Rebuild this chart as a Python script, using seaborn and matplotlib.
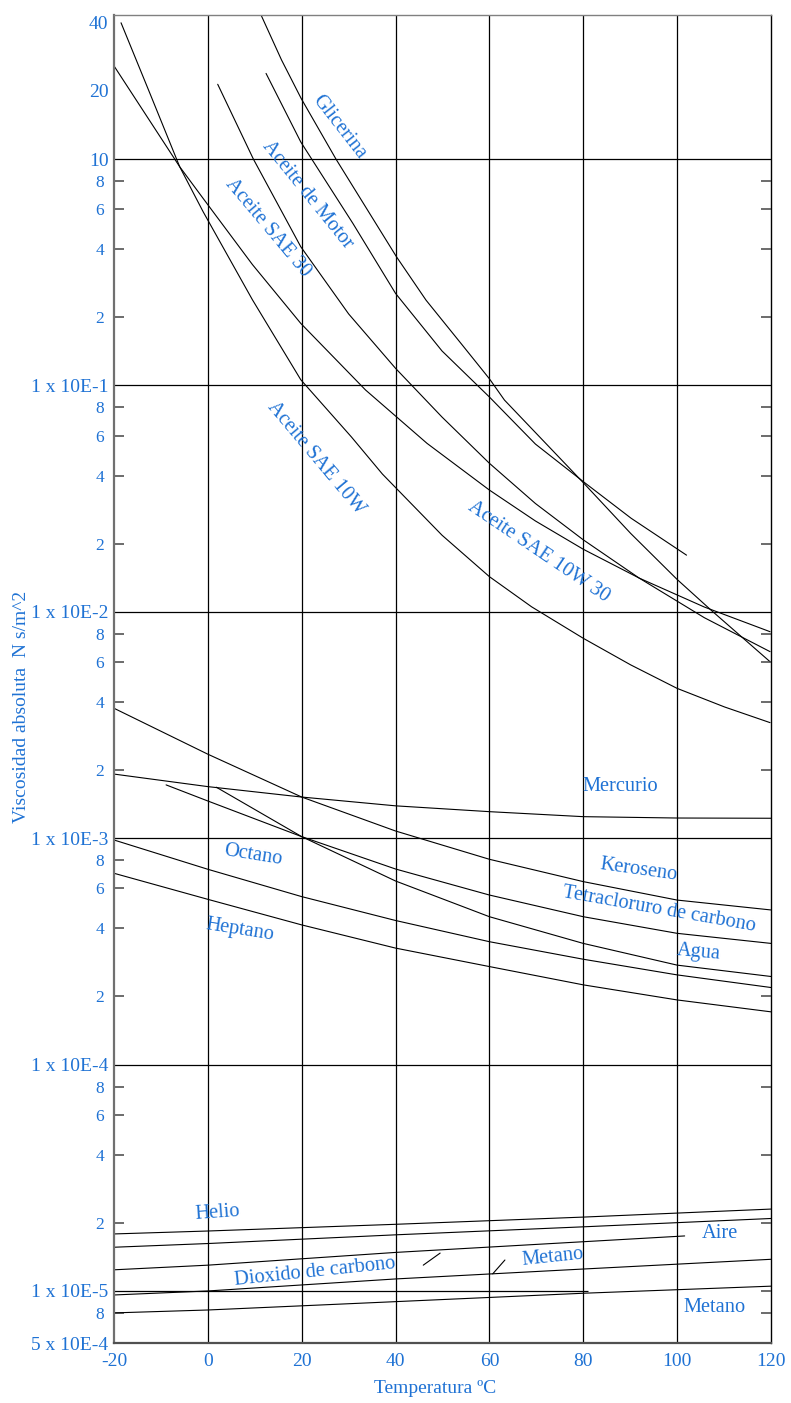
import matplotlib
matplotlib.use("Agg")
import matplotlib.pyplot as plt
import pandas as pd
import seaborn as sns

# Viscosidad absoluta vs temperatura (escala log)

# --- datos (T en ºC, mu en N s/m^2) ---
T_glicerina = [11.4, 15.7, 19.9, 27.3, 40.2, 46.5, 54.2, 60, 63.2, 80, 90.1, 100, 107.4, 119.8]
mu_glicerina = [4.3, 2.74, 1.85, 1.0, 0.370, 0.238, 0.151, 0.107, 0.0862, 0.0372, 0.0222,
                0.0139, 0.0101, 0.00602]

T_motor = [12.4, 19.8, 30.9, 40, 49.9, 60, 69.8, 80, 90.2, 102]
mu_motor = [2.39, 1.19, 0.52, 0.255, 0.142, 0.0889, 0.0551, 0.0376, 0.0259, 0.0178]

T_sae30 = [2.1, 9.7, 19.8, 30.0, 40, 49.9, 60, 69.8, 80, 91.9, 105.8, 119.8]
mu_sae30 = [2.14, 1.0, 0.410, 0.207, 0.119, 0.0725, 0.0453, 0.0301, 0.0208, 0.0141,
            0.00942, 0.00667]

T_10w30 = [-20, -6.0, -1.0, 9.5, 19.8, 33.6, 46.7, 60, 69.8, 80, 91.9, 105.8, 119.8]
mu_10w30 = [2.58, 0.925, 0.670, 0.342, 0.188, 0.0955, 0.0555, 0.0345, 0.0252, 0.0189,
            0.0141, 0.0105, 0.00817]

T_10w = [-18.5, -12.3, -6.0, -1.0, 9.5, 19.8, 30.6, 37.2, 49.9, 60, 69.0, 80, 90.1, 100,
         110.1, 119.8]
mu_10w = [4.0, 1.94, 0.925, 0.585, 0.239, 0.106, 0.0592, 0.0406, 0.0218, 0.0143, 0.01052,
          0.00764, 0.00583, 0.00459, 0.00380, 0.00324]

T_liq = [-20, 0, 20, 40, 60, 80, 100, 120]
mu_mercurio = [1.92e-3, 1.69e-3, 1.52e-3, 1.39e-3, 1.31e-3, 1.245e-3, 1.228e-3, 1.225e-3]
mu_keroseno = [3.75e-3, 2.35e-3, 1.52e-3, 1.076e-3, 8.07e-4, 6.43e-4, 5.33e-4, 4.82e-4]
mu_octano = [9.82e-4, 7.29e-4, 5.52e-4, 4.33e-4, 3.49e-4, 2.92e-4, 2.49e-4, 2.19e-4]
mu_heptano = [7.0e-4, 5.37e-4, 4.14e-4, 3.27e-4, 2.71e-4, 2.25e-4, 1.93e-4, 1.71e-4]

T_tetra = [-8.9, 0, 20, 40, 60, 80, 100, 120]
mu_tetra = [1.72e-3, 1.46e-3, 1.016e-3, 7.31e-4, 5.61e-4, 4.50e-4, 3.80e-4, 3.43e-4]

T_agua = [1.8, 20, 40, 60, 80, 100, 120]
mu_agua = [1.68e-3, 1.016e-3, 6.47e-4, 4.50e-4, 3.43e-4, 2.75e-4, 2.45e-4]

T_gas = [-20, 0, 40, 80, 120]
mu_helio = [1.786e-5, 1.84e-5, 1.97e-5, 2.12e-5, 2.30e-5]
mu_aire = [1.56e-5, 1.62e-5, 1.77e-5, 1.92e-5, 2.09e-5]
mu_metano = [9.6e-6, 1.0e-5, 1.13e-5, 1.25e-5, 1.38e-5]
mu_gas_inf = [8.0e-6, 8.24e-6, 8.97e-6, 9.77e-6, 1.05e-5]
T_co2 = [-20, 0, 40, 80, 101.6]
mu_co2 = [1.24e-5, 1.30e-5, 1.48e-5, 1.65e-5, 1.75e-5]

# trazos guia cortos junto a las etiquetas de gases
guia_T = [[45.9, 49.5], [60.7, 63.3]]
guia_mu = [[1.30e-5, 1.47e-5], [1.19e-5, 1.37e-5]]

temps = [-20, 0, 20, 40, 60, 80, 100, 120]
decadas = [1, 0.1, 0.01, 1e-3, 1e-4]
y_mayor = [4, 2, 1, 0.1, 0.01, 1e-3, 1e-4, 1e-5, 5.89e-6]
y_mayor_txt = ["40", "20", "10", "1 x 10E-1", "1 x 10E-2", "1 x 10E-3",
               "1 x 10E-4", "1 x 10E-5", "5 x 10E-4"]
y_menor = [0.8, 0.6, 0.4, 0.2, 0.08, 0.06, 0.04, 0.02, 8e-3, 6e-3, 4e-3, 2e-3,
           8e-4, 6e-4, 4e-4, 2e-4, 8e-5, 6e-5, 4e-5, 2e-5, 8e-6]
y_menor_txt = ["8", "6", "4", "2"] * 5 + ["8"]
y_derecha = [0.8, 0.6, 0.4, 0.2, 0.08, 0.06, 0.04, 0.02, 8e-3, 6e-3, 4e-3, 2e-3,
             2e-4, 8e-5, 4e-5, 2e-5, 1e-5, 8e-6]

curvas = {
    "glicerina": (T_glicerina, mu_glicerina),
    "motor": (T_motor, mu_motor),
    "sae30": (T_sae30, mu_sae30),
    "sae10w30": (T_10w30, mu_10w30),
    "sae10w": (T_10w, mu_10w),
    "mercurio": (T_liq, mu_mercurio),
    "keroseno": (T_liq, mu_keroseno),
    "octano": (T_liq, mu_octano),
    "heptano": (T_liq, mu_heptano),
    "tetracloruro": (T_tetra, mu_tetra),
    "agua": (T_agua, mu_agua),
    "helio": (T_gas, mu_helio),
    "aire": (T_gas, mu_aire),
    "metano": (T_gas, mu_metano),
    "gas_inf": (T_gas, mu_gas_inf),
    "co2": (T_co2, mu_co2),
}
filas = []
for nombre, (ts, mus) in curvas.items():
    for t, m in zip(ts, mus):
        filas.append({"curva": nombre, "T": t, "mu": m})
df = pd.DataFrame(filas)

# etiquetas: texto, T, mu, angulo
etiquetas = [
    ("Glicerina", 28.0, 1.39, -52),
    ("Aceite de Motor", 21.3, 0.693, -51),
    ("Aceite SAE 30", 12.85, 0.496, -50),
    ("Aceite SAE 10W", 23.0, 0.0478, -50),
    ("Aceite SAE 10W 30", 70.45, 0.01837, -34),
    ("Mercurio", 87.8, 1.70e-3, 0),
    ("Keroseno", 91.8, 7.24e-4, -8),
    ("Tetracloruro de carbono", 96.1, 4.82e-4, -10),
    ("Agua", 104.5, 3.14e-4, -5),
    ("Octano", 9.7, 8.43e-4, -9),
    ("Heptano", 6.9, 3.93e-4, -9),
    ("Helio", 2.05, 2.21e-5, 4),
    ("Aire", 109.2, 1.79e-5, 0),
    ("Dioxido de carbono", 22.8, 1.21e-5, 6),
    ("Metano", 73.6, 1.41e-5, 6),
    ("Metano", 108.0, 8.49e-6, 0),
]

sns.set_style("white")
plt.rcParams["font.family"] = ["Liberation Serif", "DejaVu Serif"]
AZUL = "#1f72d4"

fig = plt.figure(figsize=(7.91, 14.03), dpi=100)
ax = fig.add_axes([114 / 791, 60 / 1403, 657 / 791, 1328 / 1403])
ax.set_yscale("log")

# rejilla
for t in temps[1:-1]:
    ax.axvline(t, color="black", lw=0.9, zorder=1)
for d in decadas:
    ax.axhline(d, color="black", lw=0.9, zorder=1)
ax.hlines(1e-5, -20, 81, color="black", lw=0.9, zorder=1)

sns.lineplot(data=df, x="T", y="mu", units="curva", estimator=None,
             color="black", lw=0.8, ax=ax, legend=False, zorder=2)
for ts, ms in zip(guia_T, guia_mu):
    ax.plot(ts, ms, color="black", lw=0.8)

ax.set_xlim(-20, 120)
ax.set_ylim(5.89e-6, 4.33)

for txt, t, m, ang in etiquetas:
    ax.text(t, m, txt, color=AZUL, fontsize=14.7, rotation=ang,
            ha="center", va="center", rotation_mode="anchor")

# ejes y marcas
ax.set_xticks(temps, labels=[str(t) for t in temps])
ax.set_yticks(y_mayor, labels=y_mayor_txt)
ax.set_yticks(y_menor, labels=y_menor_txt, minor=True)
ax.tick_params(axis="x", length=0, labelsize=14, labelcolor=AZUL, pad=7)
ax.tick_params(axis="y", which="major", length=0, labelsize=14,
               labelcolor=AZUL, pad=4)
ax.tick_params(axis="y", which="minor", left=True, direction="in", length=7,
               width=1.1, color="#444444", labelsize=12.5, labelcolor=AZUL, pad=7)

ax2 = ax.twinx()
ax2.set_yscale("log")
ax2.set_ylim(ax.get_ylim())
ax2.set_yticks(y_derecha)
ax2.set_yticks([], minor=True)
ax2.tick_params(axis="y", right=True, direction="in", length=7, width=1.1,
                color="#444444", labelright=False)
for s in ax2.spines.values():
    s.set_visible(False)

ax.spines["left"].set(color="#707070", lw=1.6)
ax.spines["bottom"].set(color="#505050", lw=1.6)
ax.spines["top"].set(color="#808080", lw=1.0)
ax.spines["right"].set(color="black", lw=1.0)

ax.set_xlabel("Temperatura ºC", fontsize=14, color=AZUL)
ax.xaxis.set_label_coords((435.5 - 114) / 657, -(1380 - 1343) / 1328)
ax.set_ylabel("Viscosidad absoluta  N s/m^2", fontsize=14, color=AZUL)
ax.yaxis.set_label_coords((30 - 114) / 657, (1343 - 707) / 1328)

fig.savefig("out.png", dpi=100)
